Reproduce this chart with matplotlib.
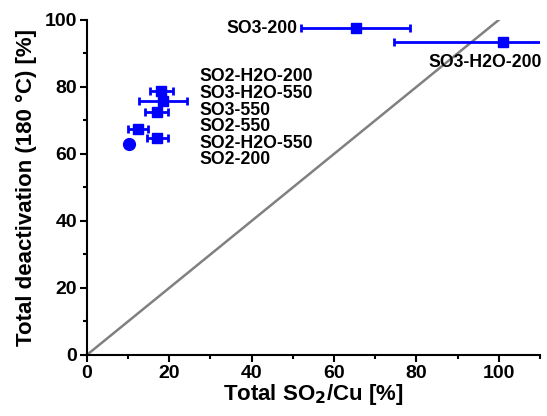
import numpy as np
import matplotlib.pyplot as plt
from matplotlib.ticker import MultipleLocator

plt.rcParams['font.family'] = ['Liberation Sans', 'DejaVu Sans']
plt.rcParams['font.weight'] = 'bold'

# data
names = ['SO3-200', 'SO3-H2O-200', 'SO2-H2O-200', 'SO3-H2O-550',
         'SO3-550', 'SO2-550', 'SO2-H2O-550', 'SO2-200']
so2_cu = [65.3, 101.0, 18.1, 18.4, 16.9, 12.4, 17.1, 10.3]
so2_err = [13.2, 26.5, 2.8, 5.8, 2.7, 2.4, 2.6, 0.0]
deact = [97.6, 93.4, 78.7, 75.9, 72.6, 67.5, 64.8, 63.1]

label_x = [51.0, 96.7, 27.2, 27.2, 27.2, 27.2, 27.2, 27.2]
label_y = [97.6, 87.4, 83.1, 78.1, 73.1, 68.1, 63.2, 58.2]
label_ha = ['right', 'center', 'left', 'left', 'left', 'left', 'left', 'left']

fig = plt.figure(figsize=(5.47, 4.16), dpi=100)
ax = fig.add_axes([0.159, 0.147, 0.828, 0.805])

ax.plot([0, 100], [0, 100], color='gray', lw=1.8, zorder=1)

for i in range(len(names)):
    if i == len(names) - 1:
        mk, ms = 'o', 8.5
    else:
        mk, ms = 's', 7
    ax.errorbar(so2_cu[i], deact[i], xerr=so2_err[i], fmt=mk, color='blue',
                ms=ms, elinewidth=2, capsize=3, capthick=2, zorder=3)
    ax.text(label_x[i], label_y[i], names[i], ha=label_ha[i], va='center',
            fontsize=12.7, fontweight='bold')

ax.set_xlim(0, 110)
ax.set_ylim(0, 100)
ax.xaxis.set_major_locator(MultipleLocator(20))
ax.xaxis.set_minor_locator(MultipleLocator(10))
ax.yaxis.set_major_locator(MultipleLocator(20))
ax.yaxis.set_minor_locator(MultipleLocator(10))
ax.tick_params(which='major', length=5, width=1.5, labelsize=14, pad=2)
ax.tick_params(which='minor', length=3, width=1.5)
for s in ['top', 'right']:
    ax.spines[s].set_visible(False)
for s in ['left', 'bottom']:
    ax.spines[s].set_linewidth(1.5)

ax.set_xlabel('Total SO$_\\mathbf{2}$/Cu [%]', fontsize=16, fontweight='bold', labelpad=0)
ax.set_ylabel('Total deactivation (180 °C) [%]', fontsize=16, fontweight='bold', labelpad=6)

fig.savefig('out.png', dpi=100)
